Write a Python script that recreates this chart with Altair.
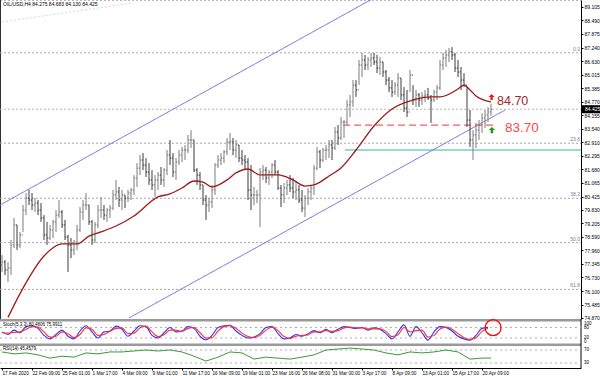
import altair as alt
import pandas as pd

# ---------------- data ----------------
bar_high = [
    77.75, 77.52, 77.43, 78.44, 79.45, 79.13, 78.81, 80.04, 80.59, 80.73,
    80.59, 80.36, 80.27, 80.13, 79.58, 79.27, 79.13, 79.36, 79.81, 80.27,
    79.81, 79.36, 78.67, 78.53, 78.44, 79.13, 79.95, 80.27, 80.59, 80.04,
    79.36, 79.27, 80.04, 80.41, 80.04, 79.90, 80.04, 80.73, 81.19, 80.87,
    80.73, 80.50, 80.73, 80.82, 81.41, 81.96, 82.33, 82.42, 82.19, 81.96,
    81.64, 81.41, 81.55, 81.78, 81.73, 82.56, 83.02, 82.42, 82.19, 82.56,
    82.70, 82.79, 83.25, 83.47, 83.02, 81.73, 81.55, 80.96, 80.50, 80.36,
    80.96, 81.96, 82.33, 82.42, 82.56, 83.11, 83.34, 83.11, 83.02, 82.79,
    82.56, 82.33, 82.19, 81.87, 80.87, 80.73, 81.73, 81.87, 81.78, 81.64,
    81.96, 82.10, 81.64, 80.96, 81.05, 81.19, 81.41, 81.28, 81.10, 80.96,
    80.73, 80.50, 80.82, 80.96, 81.87, 82.70, 82.56, 82.65, 82.79, 83.02,
    83.02, 83.61, 83.70, 84.07, 83.93, 84.85, 85.08, 85.76, 85.76, 86.68,
    87.00, 86.91, 86.82, 87.00, 87.00, 86.91, 86.82, 86.59, 86.22, 85.90,
    85.76, 85.67, 86.08, 85.85, 85.44, 85.31, 86.22, 85.53, 85.31, 85.17,
    85.21, 85.31, 85.40, 85.08, 85.31, 85.53, 86.68, 87.00, 87.14, 87.23,
    87.27, 87.00, 86.68, 86.36, 86.08, 85.44, 84.39, 83.47, 83.80, 83.93,
    84.25, 84.39, 84.53, 84.68,
]
bar_low = [
    76.98, 76.84, 76.52, 76.84, 78.07, 77.98, 78.07, 78.81, 79.58, 80.04,
    79.81, 79.72, 79.58, 79.27, 78.44, 78.21, 78.44, 78.53, 78.81, 79.45,
    78.99, 78.44, 76.98, 77.61, 77.75, 77.98, 78.81, 79.36, 79.81, 79.13,
    78.21, 78.30, 78.99, 79.45, 79.36, 79.27, 79.45, 79.81, 80.27, 79.95,
    79.81, 79.90, 80.18, 80.27, 80.50, 80.87, 81.41, 81.64, 81.32, 80.96,
    80.73, 80.41, 80.73, 80.96, 80.87, 81.41, 81.87, 81.32, 81.19, 81.87,
    82.01, 82.10, 82.42, 82.65, 81.55, 80.96, 80.73, 80.04, 79.36, 79.72,
    79.90, 80.50, 81.73, 81.87, 81.96, 82.33, 82.56, 82.33, 82.19, 82.01,
    81.87, 81.64, 80.27, 79.81, 80.04, 80.13, 79.03, 81.19, 81.05, 80.96,
    81.28, 81.41, 80.73, 79.95, 80.13, 80.50, 80.64, 80.36, 80.27, 80.13,
    79.72, 79.49, 80.04, 80.27, 80.50, 81.64, 81.73, 82.01, 82.10, 82.19,
    82.10, 82.56, 82.79, 83.02, 83.11, 83.70, 84.07, 84.53, 84.99, 85.53,
    85.90, 86.22, 86.22, 86.36, 86.45, 86.08, 85.99, 85.90, 85.53, 85.21,
    84.99, 85.08, 84.99, 84.85, 84.30, 84.07, 85.21, 84.62, 84.53, 84.53,
    84.62, 84.76, 84.85, 83.80, 84.76, 84.85, 85.31, 86.22, 86.36, 86.59,
    86.68, 86.13, 85.90, 85.31, 85.44, 83.61, 82.70, 82.10, 82.65, 83.02,
    83.34, 83.56, 83.84, 84.13,
]
bar_close = [
    77.43, 77.07, 77.16, 78.21, 79.13, 78.21, 78.67, 79.81, 80.36, 80.27,
    80.04, 80.13, 79.81, 79.45, 78.67, 78.53, 78.90, 79.27, 79.58, 79.72,
    79.13, 78.58, 78.21, 77.98, 78.35, 78.90, 79.72, 80.04, 80.04, 79.27,
    78.44, 79.13, 79.81, 79.81, 79.58, 79.81, 79.90, 80.50, 80.64, 80.27,
    80.50, 80.36, 80.59, 80.73, 81.28, 81.73, 82.10, 81.87, 81.55, 81.19,
    80.96, 81.19, 81.41, 81.19, 81.64, 82.33, 82.19, 81.55, 82.01, 82.33,
    82.56, 82.56, 83.02, 83.02, 81.64, 81.41, 80.96, 80.27, 80.04, 80.18,
    80.73, 81.87, 82.10, 82.19, 82.47, 82.93, 82.93, 82.56, 82.79, 82.19,
    82.10, 82.01, 80.73, 80.50, 80.50, 80.50, 81.55, 81.64, 81.28, 81.55,
    81.87, 81.55, 80.82, 80.50, 80.82, 80.96, 80.82, 80.64, 80.73, 80.27,
    79.90, 80.36, 80.64, 80.82, 81.73, 82.47, 82.10, 82.56, 82.56, 82.79,
    82.65, 83.38, 83.11, 83.84, 83.84, 84.62, 84.76, 85.53, 85.31, 86.45,
    86.68, 86.45, 86.68, 86.77, 86.59, 86.31, 86.59, 86.13, 85.76, 85.40,
    85.21, 85.53, 85.85, 85.08, 84.48, 84.30, 85.99, 84.85, 85.08, 84.85,
    85.03, 85.08, 84.94, 84.85, 85.21, 85.40, 86.45, 86.77, 86.91, 87.05,
    86.91, 86.31, 86.13, 85.76, 85.53, 83.93, 83.02, 83.25, 83.47, 83.70,
    84.02, 84.16, 84.30, 84.425,
]
first_open = 77.30

ma_idx = [2, 7, 14, 20, 25, 29, 33, 38, 44, 52, 56, 60, 64, 67, 70, 75, 78, 82, 86, 92,
          97, 101, 104, 106, 109, 113, 118, 124, 130, 137, 143, 146, 152, 154, 156, 158, 163]
ma_val = [74.90, 76.24, 77.71, 78.26, 78.26, 78.62, 78.81, 79.08, 79.54, 80.41, 80.55,
          80.82, 81.14, 81.09, 80.87, 81.19, 81.51, 81.69, 81.42, 81.42, 81.19, 80.91,
          80.96, 81.09, 81.37, 81.74, 82.56, 83.66, 84.44, 84.85, 84.99, 84.99, 85.35,
          85.53, 85.31, 85.03, 84.76]

stoch_idx = list(range(0, 164, 2))
stoch_main = [55, 40, 65, 50, 85, 90, 75, 35, 15, 40,
              65, 30, 15, 60, 90, 55, 20, 55, 60, 88,
              70, 30, 60, 90, 85, 35, 20, 50, 80, 55,
              60, 85, 75, 30, 10, 35, 80, 90, 92, 60,
              35, 20, 25, 45, 80, 85, 45, 15, 20, 40,
              30, 45, 62, 50, 70, 50, 70, 85, 80, 75,
              80, 65, 78, 70, 45, 15, 55, 95, 30, 85,
              50, 8, 55, 85, 80, 60, 30, 15, 8, 35,
              75, 80.48]
stoch_signal = [50, 48, 52, 55, 70, 85, 82, 55, 25, 30,
                55, 45, 22, 40, 78, 70, 35, 40, 58, 75,
                78, 45, 48, 78, 88, 55, 28, 38, 65, 65,
                58, 75, 80, 50, 20, 22, 60, 85, 90, 75,
                48, 28, 22, 35, 65, 82, 62, 28, 18, 30,
                35, 38, 55, 55, 62, 58, 62, 78, 82, 78,
                78, 72, 72, 72, 58, 28, 38, 80, 55, 62,
                65, 25, 35, 72, 82, 70, 45, 22, 12, 22,
                58, 75.99]

rsi_idx = list(range(0, 161, 4)) + [163]
rsi_val = [64, 58, 61, 55, 45, 51, 48, 61, 58, 64,
           64, 67, 70, 67, 70, 64, 51, 36, 48, 64,
           61, 42, 48, 45, 42, 48, 55, 70, 73, 76,
           73, 70, 61, 55, 64, 61, 64, 70, 64, 42,
           45, 45.46]

price_ticks = [89.105, 88.490, 87.875, 87.240, 86.630, 86.015, 85.385, 84.770, 84.155,
               83.540, 82.910, 82.295, 81.680, 81.065, 80.425, 79.830, 79.205, 78.590,
               77.960, 77.345, 76.730, 76.100, 75.485, 74.870]
time_idx = list(range(0, 161, 10))
time_labels = ["17 Feb 2020", "22 Feb 09:00", "25 Feb 01:00", "1 Mar 17:00", "4 Mar 09:00",
               "9 Mar 01:00", "11 Mar 17:00", "16 Mar 09:00", "19 Mar 01:00", "23 Mar 16:00",
               "26 Mar 08:00", "31 Mar 00:00", "3 Apr 17:00", "8 Apr 09:00", "13 Apr 01:00",
               "15 Apr 17:00", "20 Apr 09:00"]

fib_prices = [87.01, 82.87, 80.35, 78.32, 76.18]
fib_names = ["0.0", "23.6", "38.2", "50.0", "61.8"]
bid_price = 84.425
teal_price = 82.56
teal_from = 114.3
dash_price = 83.70
dash_from, dash_to = 113.7, 164.3
lower_i, lower_p = [42.3, 167.7], [74.87, 84.39]
upper_i, upper_p = [-0.67, 130.0], [80.04, 89.97]
faint_i, faint_p = [0.0, 43.7], [88.42, 89.29]

title_main = "OIL/USD,H4  84.275 84.683 84.130 84.425"
title_stoch = "Stoch(5,3,3) 80.4806 75.9911"
title_rsi = "RSI(14) 45.4579"

FONT = "Liberation Sans"
W, H = 581, 368

# ---------------- tables ----------------
bars = pd.DataFrame({"i": list(range(len(bar_close))), "high": bar_high,
                     "low": bar_low, "close": bar_close})
bars["open"] = [first_open] + bar_close[:-1]
bars["dir"] = ["up" if c >= o else "down" for c, o in zip(bars["close"], bars["open"])]
bars["xl"] = bars["i"] - 0.4
bars["xr"] = bars["i"] + 0.4

ma = pd.DataFrame({"i": ma_idx, "p": ma_val})
st = pd.DataFrame({"i": stoch_idx, "k": stoch_main, "d": stoch_signal})
rsi = pd.DataFrame({"i": rsi_idx, "v": rsi_val})
fib = pd.DataFrame({"p": fib_prices, "name": fib_names})

xs = alt.Scale(domain=[-0.6667, 193.0], nice=False, zero=False)
ps = alt.Scale(domain=[74.824, 89.425], range=[319, 0], nice=False, zero=False)
ss = alt.Scale(domain=[0, 100], range=[341.5, 324], nice=False, zero=False)
rs = alt.Scale(domain=[30, 70], range=[363, 350], nice=False, zero=False)

label_js = "[" + ",".join("'" + s + "'" for s in time_labels) + "][round(datum.value/10)]"
xaxis = alt.Axis(values=time_idx, labelExpr=label_js, labelAlign="left", labelFontSize=4.7,
                 labelFont=FONT, labelColor="black", tickSize=2, tickColor="black",
                 domainColor="black", labelPadding=0, labelOverlap=False, labelFlush=False,
                 labelBound=False, grid=False, title=None, orient="bottom")
yaxis = alt.Axis(orient="right", values=price_ticks, format=".3f", labelFontSize=5,
                 labelFont=FONT, labelColor="black", tickSize=2, tickColor="black",
                 domainColor="black", labelPadding=1, labelOverlap=False, labelBound=False,
                 labelFlush=False, grid=False, title=None)


def X(f="i"):
    return alt.X(f + ":Q", scale=xs, axis=xaxis)


def PY(f):
    return alt.Y(f + ":Q", scale=ps, axis=None)


one = bars.head(1)
layers = []

# frame pieces
layers.append(alt.Chart(one).mark_rule(color="#b8b8b8", strokeDash=[2, 2]).encode(
    x=alt.value(0), x2=alt.value(W), y=alt.value(0.5)))
layers.append(alt.Chart(one).mark_rule(color="#303030").encode(
    x=alt.value(0.5), y=alt.value(0), y2=alt.value(319)))

# fibonacci levels + bid line
layers.append(alt.Chart(fib).mark_rule(color="#a8a8a8", strokeDash=[2, 2], strokeWidth=1).encode(
    x=alt.value(0), x2=alt.value(W), y=PY("p")))
layers.append(alt.Chart(fib).mark_text(align="right", baseline="bottom", dy=-1, fontSize=5,
                                       font=FONT, color="#7a7ab0").encode(
    x=alt.value(580), y=PY("p"), text="name:N"))
layers.append(alt.Chart(pd.DataFrame({"p": [bid_price]})).mark_rule(
    color="#b8b8b8", strokeDash=[2, 2]).encode(x=alt.value(0), x2=alt.value(W), y=PY("p")))

# teal support line
layers.append(alt.Chart(pd.DataFrame({"a": [teal_from], "b": [193.0], "p": [teal_price]})).mark_rule(
    color="#3cb3a8", strokeWidth=1.2).encode(x=X("a"), x2="b:Q", y=PY("p")))

# channel lines
for ci, cp, col, dash in [(lower_i, lower_p, "#6a6ad8", [1, 0]),
                          (upper_i, upper_p, "#6a6ad8", [1, 0]),
                          (faint_i, faint_p, "#d2d7f4", [2, 2])]:
    layers.append(alt.Chart(pd.DataFrame({"i": ci, "p": cp})).mark_line(
        clip=True, strokeWidth=1, color=col, strokeDash=dash).encode(x=X("i"), y=PY("p")))

# red dashed level
layers.append(alt.Chart(pd.DataFrame({"a": [dash_from], "b": [dash_to], "p": [dash_price]})).mark_rule(
    color="#ff5a5a", strokeDash=[7, 4], strokeWidth=1.2).encode(x=X("a"), x2="b:Q", y=PY("p")))

# OHLC bars
bar_color = alt.Color("dir:N", scale=alt.Scale(domain=["up", "down"], range=["#7c7c7c", "#3c3c3c"]),
                      legend=None)
layers.append(alt.Chart(bars).mark_rule(strokeWidth=1).encode(
    x=X("i"), y=alt.Y("low:Q", scale=ps, axis=yaxis), y2="high:Q", color=bar_color))
layers.append(alt.Chart(bars).mark_rule(strokeWidth=1).encode(
    x=X("xl"), x2="i:Q", y=PY("open"), color=bar_color))
layers.append(alt.Chart(bars).mark_rule(strokeWidth=1).encode(
    x=X("i"), x2="xr:Q", y=PY("close"), color=bar_color))

# moving average
layers.append(alt.Chart(ma).mark_line(color="#9b1c1c", strokeWidth=1.3, interpolate="monotone").encode(
    x=X("i"), y=PY("p")))

# level labels and arrows
arrow = "M0,-1L1,0L0.4,0L0.4,1L-0.4,1L-0.4,0L-1,0Z"
layers.append(alt.Chart(pd.DataFrame({"i": [165.0], "p": [84.78], "t": ["84.70"]})).mark_text(
    align="left", baseline="middle", fontSize=12.5, font=FONT, color="#a02828").encode(
    x=X("i"), y=PY("p"), text="t:N"))
layers.append(alt.Chart(pd.DataFrame({"i": [167.7], "p": [83.58], "t": ["83.70"]})).mark_text(
    align="left", baseline="middle", fontSize=13.5, font=FONT, color="#ff4848").encode(
    x=X("i"), y=PY("p"), text="t:N"))
layers.append(alt.Chart(pd.DataFrame({"i": [163.2], "p": [84.99]})).mark_point(
    shape=arrow, size=36, filled=True, color="#e02020", opacity=1).encode(x=X("i"), y=PY("p")))
layers.append(alt.Chart(pd.DataFrame({"i": [163.3], "p": [83.47]})).mark_point(
    shape=arrow, size=40, filled=True, color="#1a9a1a", opacity=1).encode(x=X("i"), y=PY("p")))

# current price box
layers.append(alt.Chart(pd.DataFrame({"a": [bid_price + 0.185], "b": [bid_price - 0.185]})).mark_rect(
    color="black").encode(x=alt.value(582), x2=alt.value(600), y=PY("a"), y2="b:Q"))
layers.append(alt.Chart(pd.DataFrame({"p": [bid_price], "t": ["84.425"]})).mark_text(
    align="left", baseline="middle", fontSize=5, font=FONT, color="white").encode(
    x=alt.value(585), y=PY("p"), text="t:N"))

# titles
layers.append(alt.Chart(pd.DataFrame({"t": [title_main]})).mark_text(
    align="left", baseline="middle", fontSize=5, font=FONT, color="black").encode(
    x=alt.value(3), y=alt.value(4), text="t:N"))

# panel separators + right axis continuation
for y0, y1 in [(319, 321.5), (343.5, 346)]:
    layers.append(alt.Chart(one).mark_rect(color="#9a9a9a").encode(
        x=alt.value(0), x2=alt.value(W), y=alt.value(y0), y2=alt.value(y1)))
layers.append(alt.Chart(one).mark_rule(color="black").encode(
    x=alt.value(W), y=alt.value(319), y2=alt.value(H)))

# stochastic
st_lv = pd.DataFrame({"v": [80, 20]})
layers.append(alt.Chart(st_lv).mark_rule(color="#b0b0b0", strokeDash=[2, 3]).encode(
    x=alt.value(0), x2=alt.value(W), y=alt.Y("v:Q", scale=ss, axis=None)))
layers.append(alt.Chart(st).mark_line(color="#3030ff", strokeWidth=1.1, interpolate="monotone").encode(
    x=X("i"), y=alt.Y("k:Q", scale=ss, axis=None)))
layers.append(alt.Chart(st).mark_line(color="#ff3030", strokeWidth=1.1, interpolate="monotone").encode(
    x=X("i"), y=alt.Y("d:Q", scale=ss, axis=None)))
layers.append(alt.Chart(pd.DataFrame({"i": [163.7], "v": [79]})).mark_point(
    shape="circle", size=254, filled=False, stroke="#ff0000", strokeWidth=1.3, opacity=1).encode(
    x=X("i"), y=alt.Y("v:Q", scale=ss, axis=None)))
layers.append(alt.Chart(pd.DataFrame({"v": [100, 80, 20, 0], "t": ["100", "80", "20", "0"]})).mark_text(
    align="left", baseline="middle", fontSize=4.5, font=FONT, color="black").encode(
    x=alt.value(584), y=alt.Y("v:Q", scale=ss, axis=None), text="t:N"))
layers.append(alt.Chart(pd.DataFrame({"t": [title_stoch]})).mark_text(
    align="left", baseline="middle", fontSize=4.5, font=FONT, color="black").encode(
    x=alt.value(3), y=alt.value(325), text="t:N"))

# RSI
rsi_lv = pd.DataFrame({"v": [70, 30], "t": ["70", "30"]})
layers.append(alt.Chart(rsi_lv).mark_rule(color="#b0b0b0", strokeDash=[2, 3]).encode(
    x=alt.value(0), x2=alt.value(W), y=alt.Y("v:Q", scale=rs, axis=None)))
layers.append(alt.Chart(rsi).mark_line(color="#3a9a3a", strokeWidth=1).encode(
    x=X("i"), y=alt.Y("v:Q", scale=rs, axis=None)))
layers.append(alt.Chart(rsi_lv).mark_text(
    align="left", baseline="middle", fontSize=4.5, font=FONT, color="black").encode(
    x=alt.value(584), y=alt.Y("v:Q", scale=rs, axis=None), text="t:N"))
layers.append(alt.Chart(pd.DataFrame({"t": [title_rsi]})).mark_text(
    align="left", baseline="middle", fontSize=4.5, font=FONT, color="black").encode(
    x=alt.value(3), y=alt.value(349), text="t:N"))

chart = alt.layer(*layers).resolve_scale(y="independent").properties(
    width=W, height=H,
    padding={"left": 0, "top": 0, "right": 19, "bottom": 8},
    autosize=alt.AutoSizeParams(type="none"),
    background="white",
).configure_view(strokeWidth=0)

chart.save("out.html", embed_options={"renderer": "svg", "actions": False})
